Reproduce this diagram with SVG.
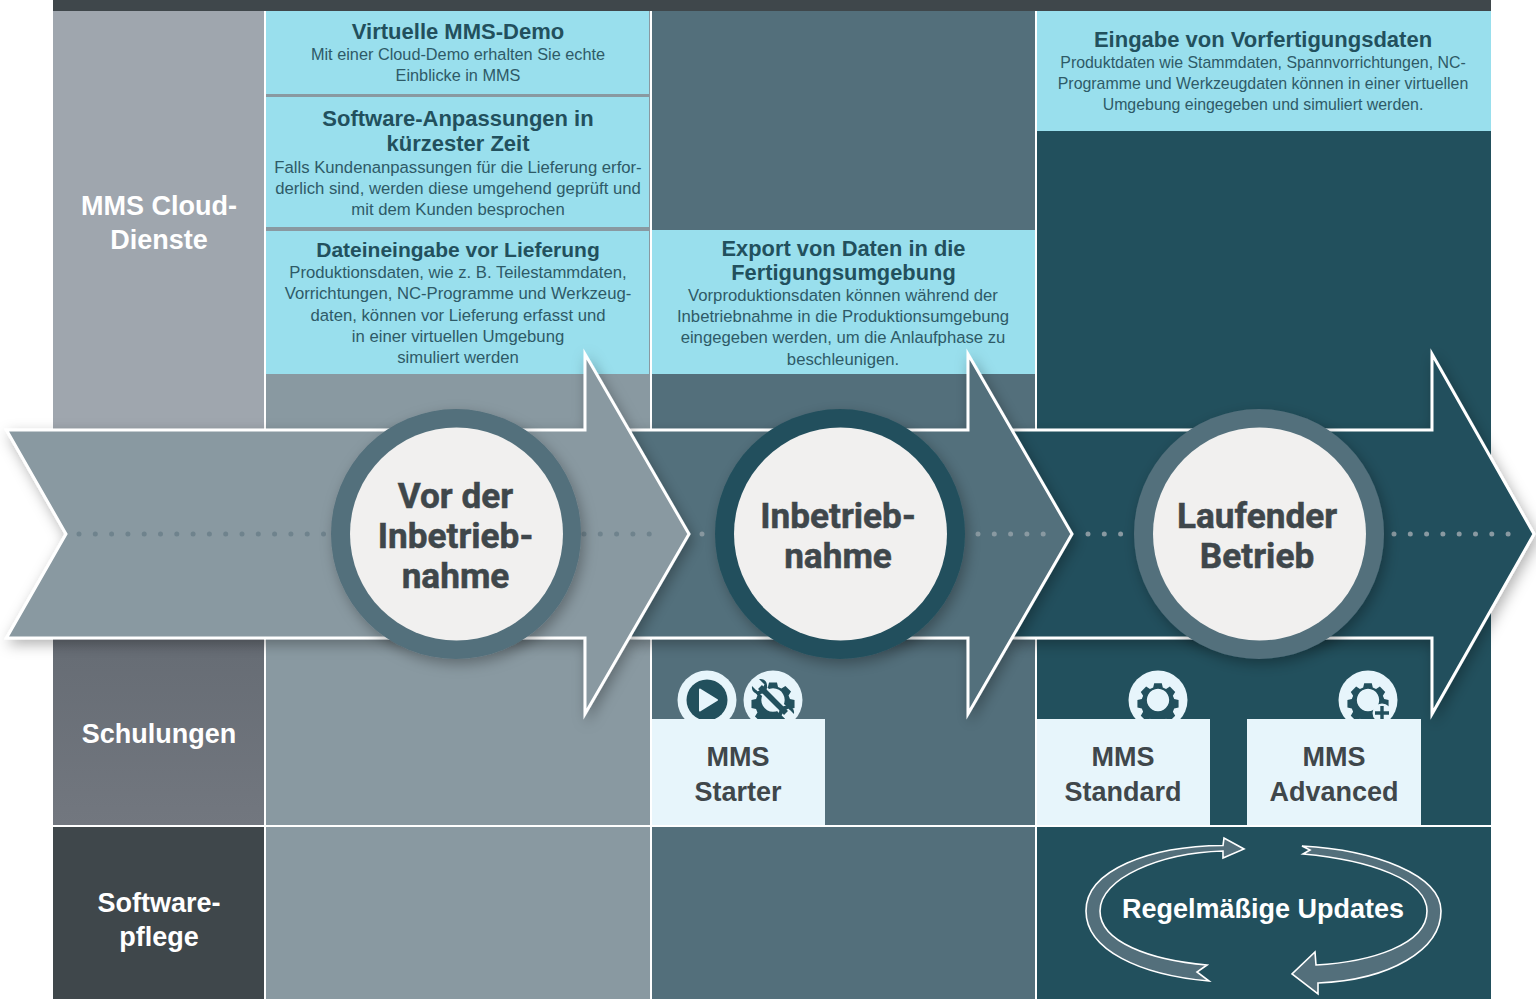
<svg xmlns="http://www.w3.org/2000/svg" width="1536" height="999" viewBox="0 0 1536 999">
<style>
text{font-family:"Liberation Sans",Arial,sans-serif;text-anchor:middle}
.h{font-size:22px;font-weight:700;fill:#22505d}
.b{font-size:16.3px;fill:#2e5a67}
.b2{font-size:16.7px;fill:#2e5a67}
.b3{font-size:15.9px;fill:#2e5a67}
.s{font-size:27px;font-weight:700;fill:#fff}
.c{font-size:35.200px;font-weight:700;fill:#3f474b;font-family:Roboto,"Liberation Sans",sans-serif;stroke:#3f474b;stroke-width:.5}
.m{font-size:27px;font-weight:700;fill:#3f474b}
.d{fill:none;stroke-width:5;stroke-linecap:round;stroke-dasharray:0 16.3}
.a{stroke:#fff;stroke-width:3;stroke-linejoin:miter;filter:url(#sh)}
.w{stroke:#fff;stroke-width:1.6;fill:#536f7b}
.g{fill:#22505d}
</style>
<defs>
<filter id="sh" x="-10%" y="-15%" width="120%" height="130%"><feDropShadow dx="3" dy="5" stdDeviation="7" flood-color="#000" flood-opacity=".3"/></filter>
<linearGradient id="sg" x1="0" y1="0" x2="0" y2="1"><stop offset="0" stop-color="#666c74"/><stop offset="1" stop-color="#72777f"/></linearGradient>
<path id="gear" d="M-3.4-15h6.800l.9 3.900 2.900 1.200 3.400-2.100 4.800 4.800-2.100 3.400 1.200 2.900 3.900.9v6.800l-3.900.9-1.200 2.900 2.100 3.400-4.800 4.800-3.400-2.100-2.900 1.200-.9 3.900h-6.800l-.9-3.900-2.900-1.200-3.400 2.100-4.800-4.800 2.100-3.400-1.200-2.900-3.900-.9v-6.800l3.900-.9 1.200-2.900-2.100-3.400 4.800-4.800 3.400 2.100 2.900-1.200zM0-10a10 10 0 1 0 .01 0z" fill-rule="evenodd" transform="scale(1.3)"/>
</defs>
<rect width="1536" height="999" fill="#fff"/>
<g id="grid">
<rect x="53" y="0" width="1438" height="11" fill="#3f474b"/>
<rect x="53" y="11" width="211" height="418" fill="#9fa6ae"/>
<rect x="53" y="639" width="211" height="186" fill="url(#sg)"/>
<rect x="53" y="827" width="211" height="172" fill="#3f474b"/>
<rect x="266" y="11" width="384" height="814" fill="#8999a1"/>
<rect x="266" y="827" width="384" height="172" fill="#8999a1"/>
<rect x="652" y="11" width="383" height="814" fill="#536f7b"/>
<rect x="652" y="827" width="383" height="172" fill="#536f7b"/>
<rect x="1037" y="11" width="454" height="814" fill="#22505d"/>
<rect x="1037" y="827" width="454" height="172" fill="#22505d"/>
</g>
<g id="row-labels">
<text class="s" x="159" y="214.500">MMS Cloud-</text>
<text class="s" x="159" y="248.500">Dienste</text>
<text class="s" x="159" y="742.500">Schulungen</text>
<text class="s" x="159" y="911.500">Software-</text>
<text class="s" x="159" y="945.500">pflege</text>
</g>
<g id="box-demo">
<rect x="266" y="11" width="383" height="83" fill="#99dfed"/>
<text class="h" x="458" y="39">Virtuelle MMS-Demo</text>
<text class="b" x="458" y="60">Mit einer Cloud-Demo erhalten Sie echte</text>
<text class="b" x="458" y="81">Einblicke in MMS</text>
</g>
<g id="box-anpassung">
<rect x="266" y="97" width="383" height="130" fill="#99dfed"/>
<text class="h" x="458" y="125.500">Software-Anpassungen in</text>
<text class="h" x="458" y="151">kürzester Zeit</text>
<text class="b2" x="458" y="173">Falls Kundenanpassungen für die Lieferung erfor-</text>
<text class="b2" x="458" y="194">derlich sind, werden diese umgehend geprüft und</text>
<text class="b2" x="458" y="215">mit dem Kunden besprochen</text>
</g>
<g id="box-eingabe">
<rect x="266" y="231" width="383" height="143" fill="#99dfed"/>
<text class="h" x="458" y="257" style="font-size:21px">Dateineingabe vor Lieferung</text>
<text class="b2" x="458" y="278">Produktionsdaten, wie z. B. Teilestammdaten,</text>
<text class="b2" x="458" y="299">Vorrichtungen, NC-Programme und Werkzeug-</text>
<text class="b2" x="458" y="321">daten, können vor Lieferung erfasst und</text>
<text class="b2" x="458" y="342">in einer virtuellen Umgebung</text>
<text class="b2" x="458" y="363">simuliert werden</text>
</g>
<g id="box-export">
<rect x="652" y="230" width="383" height="144" fill="#99dfed"/>
<text class="h" x="843.500" y="255.500" style="font-size:21.850px">Export von Daten in die</text>
<text class="h" x="843.500" y="280" style="font-size:21.850px">Fertigungsumgebung</text>
<text class="b2" x="843" y="301">Vorproduktionsdaten können während der</text>
<text class="b2" x="843" y="322">Inbetriebnahme in die Produktionsumgebung</text>
<text class="b2" x="843" y="343">eingegeben werden, um die Anlaufphase zu</text>
<text class="b2" x="843" y="365">beschleunigen.</text>
</g>
<g id="box-vorfertigung">
<rect x="1037" y="11" width="454" height="120" fill="#99dfed"/>
<text class="h" x="1263" y="46.500">Eingabe von Vorfertigungsdaten</text>
<text class="b3" x="1263" y="68">Produktdaten wie Stammdaten, Spannvorrichtungen, NC-</text>
<text class="b3" x="1263" y="89">Programme und Werkzeugdaten können in einer virtuellen</text>
<text class="b3" x="1263" y="110">Umgebung eingegeben und simuliert werden.</text>
</g>
<g id="connectors">
<polygon class="a" fill="#22505d" points="1012,430 1432,430 1432,354 1534,534 1432,714 1432,638 1012,638"/>
<path class="d" stroke="#8999a1" d="M1088 534H1125M1394 534H1520"/>
<polygon class="a" fill="#536f7b" points="630,430 968,430 968,354 1072,534 968,714 968,638 630,638"/>
<path class="d" stroke="#8999a1" d="M702 534H706M978 534H1058"/>
<polygon class="a" fill="#8999a1" points="6.500,430 585,430 585,354 689,534 585,714 585,638 6.500,638 66,534"/>
<path class="d" stroke="#6f838d" d="M79 534H326M584 534H650"/>
</g>
<g id="stage-1">
<circle cx="456" cy="534" r="125" fill="#536f7b" filter="url(#sh)"/>
<circle cx="456.500" cy="534" r="106.500" fill="#f1f0ef"/>
<text class="c" x="455.500" y="507.500">Vor der</text>
<text class="c" x="455.500" y="547.500">Inbetrieb-</text>
<text class="c" x="455.500" y="587.500">nahme</text>
</g>
<g id="stage-2">
<circle cx="840" cy="534" r="125" fill="#22505d" filter="url(#sh)"/>
<circle cx="840.500" cy="534" r="106.500" fill="#f1f0ef"/>
<text class="c" x="838" y="527.500">Inbetrieb-</text>
<text class="c" x="838" y="567.500">nahme</text>
</g>
<g id="stage-3">
<circle cx="1259" cy="534" r="125" fill="#536f7b" filter="url(#sh)"/>
<circle cx="1259.500" cy="534" r="106.500" fill="#f1f0ef"/>
<text class="c" x="1257" y="527.500">Laufender</text>
<text class="c" x="1257" y="567.500">Betrieb</text>
</g>
<g id="mms-starter">
<circle cx="707" cy="700" r="29.500" fill="#e7f5fb"/>
<circle cx="707" cy="700" r="20.500" class="g"/>
<path d="M700 689.500 717 700 700 710.500z" fill="#e7f5fb" stroke="#e7f5fb" stroke-width="2" stroke-linejoin="round"/>
<circle cx="773" cy="700" r="29.500" fill="#e7f5fb"/>
<g transform="translate(773 700)">
<use href="#gear" class="g" transform="scale(.9)"/>
<path d="M-19-19 19 19" stroke="#e7f5fb" stroke-width="10" fill="none"/>
<path d="M-13-13 13 13" stroke="#22505d" stroke-width="5.500" fill="none"/>
<path d="M-14-21-8.500-15.500-11-11-15.500-8.500-21-14C-22-7-15-4-9-7L-7-9C-4-15-7-22-14-21z" class="g"/>
<path d="M14 21 8.500 15.500 11 11 15.500 8.500 21 14C22 7 15 4 9 7L7 9C4 15 7 22 14 21z" class="g"/>
</g>
<rect x="652" y="719" width="173" height="106" fill="#e7f5fb"/>
<text class="m" x="738" y="765.500">MMS</text>
<text class="m" x="738" y="800.500">Starter</text>
</g>
<g id="mms-standard">
<circle cx="1158" cy="700" r="29.500" fill="#e7f5fb"/>
<use href="#gear" class="g" transform="translate(1158 700) scale(.86)"/>
<rect x="1037" y="719" width="173" height="106" fill="#e7f5fb"/>
<text class="m" x="1123" y="765.500">MMS</text>
<text class="m" x="1123" y="800.500">Standard</text>
</g>
<g id="mms-advanced">
<circle cx="1368" cy="700" r="29.500" fill="#e7f5fb"/>
<use href="#gear" class="g" transform="translate(1368 700) scale(.86)"/>
<circle cx="1382" cy="713" r="9.500" fill="#e7f5fb"/>
<path d="M1380.300 706h3.400v5.300h5.300v3.400h-5.300v5.300h-3.400v-5.300h-5.300v-3.400h5.300z" class="g"/>
<rect x="1247" y="719" width="174" height="106" fill="#e7f5fb"/>
<text class="m" x="1334" y="765.500">MMS</text>
<text class="m" x="1334" y="800.500">Advanced</text>
</g>
<g id="updates">
<path class="w" d="M1223 845.500 1224 838 1244 849 1223 858 1223 851C1160 853 1100 878 1100 911 1100 942 1150 960 1207 965L1197 972 1209 981C1140 975 1086 950 1086 911 1086 870 1150 846 1223 845.500z"/>
<path class="w" d="M1302 846 1310 850 1303 854C1370 860 1427 880 1427 911 1427 945 1370 962 1316 965L1315 952 1292 974 1318 994 1318 983C1390 980 1441 950 1441 911 1441 875 1375 850 1302 846z"/>
<text x="1263" y="918" font-size="27" font-weight="700" fill="#fff">Regelmäßige Updates</text>
</g>
</svg>
